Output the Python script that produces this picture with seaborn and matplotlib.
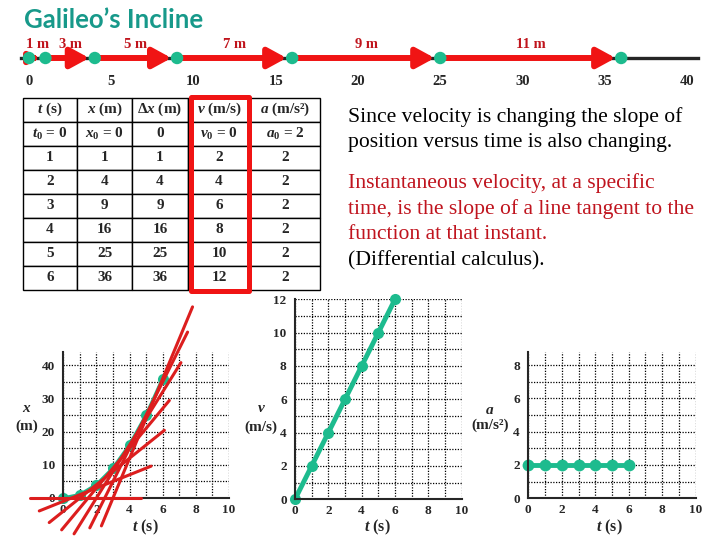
import numpy as np
import matplotlib
matplotlib.use('Agg')
import matplotlib.pyplot as plt
import matplotlib.patches as patches
from matplotlib.ticker import MultipleLocator, FuncFormatter
import seaborn as sns

# --- data ---
times = [0, 1, 2, 3, 4, 5, 6]
positions = [0, 1, 4, 9, 16, 25, 36]
displacements = [0, 1, 4, 9, 16, 25, 36]
velocities = [0, 2, 4, 6, 8, 10, 12]
accelerations = [2, 2, 2, 2, 2, 2, 2]
step_labels = ['1 m', '3 m', '5 m', '7 m', '9 m', '11 m']

table_header = ['$t$ (s)', '$x$ (m)', r'$\Delta x$ (m)', '$v$ (m/s)', '$a$ (m/s²)']
first_row = ['$t_0$ = 0', '$x_0$ = 0', '0', '$v_0$ = 0', '$a_0$ = 2']

# tangent lines on the x-t graph (where each red line starts / stops, in s)
tangent_start = [-2.0, -1.45, -0.85, -0.1, 0.65, 1.6, 2.3]
tangent_end = [4.7, 5.3, 6.1, 6.4, 7.1, 7.5, 7.8]

text_lines = [
    ('Since velocity is changing the slope of', 'black'),
    ('position versus time is also changing.', 'black'),
    ('Instantaneous velocity, at a specific', 'red'),
    ('time, is the slope of a line tangent to the', 'red'),
    ('function at that instant.', 'red'),
    ('(Differential calculus).', 'black'),
]

teal = '#1dbb8e'
title_teal = '#17998a'
arrow_red = '#f01414'
label_red = '#c0141c'
line_red = '#dc1e1e'
text_red = '#c0141e'

sns.set_style('white')
plt.rcParams['font.family'] = ['Liberation Serif', 'DejaVu Serif']
plt.rcParams['font.weight'] = 'bold'
plt.rcParams['mathtext.fontset'] = 'custom'
plt.rcParams['mathtext.rm'] = 'Liberation Serif:bold'
plt.rcParams['mathtext.it'] = 'Liberation Serif:italic:bold'
plt.rcParams['mathtext.bf'] = 'Liberation Serif:bold'

W, H = 720, 540
fig = plt.figure(figsize=(7.2, 5.4), dpi=100)


def px_axes(x0, y0, x1, y1):
    return fig.add_axes([x0 / W, 1 - y1 / H, (x1 - x0) / W, (y1 - y0) / H])


def ftext(x, y, s, **kw):
    return fig.text(x / W, 1 - y / H, s, **kw)


ftext(24, 20, 'Galileo’s Incline', family='Lato', weight='bold', fontsize=18.5,
      color=title_teal, ha='left', va='center')

# number line
ax_nl = px_axes(21, 28, 698, 88)
ax_nl.set_xlim(-0.486, 40.67)
ax_nl.set_ylim(-1, 1)
ax_nl.patch.set_alpha(0)
for s in ['top', 'right', 'left']:
    ax_nl.spines[s].set_visible(False)
ax_nl.spines['bottom'].set_position(('data', 0))
ax_nl.spines['bottom'].set_linewidth(2.4)
ax_nl.xaxis.set_major_locator(MultipleLocator(1))
ax_nl.xaxis.set_major_formatter(
    FuncFormatter(lambda v, p: f'{int(round(v))}' if round(v) % 5 == 0 else ''))
ax_nl.tick_params(axis='x', direction='out', length=8.5, width=1.6, pad=4, labelsize=10.5)
ax_nl.set_yticks([])

for i, lab in enumerate(step_labels):
    a, b = positions[i], positions[i + 1]
    # short first step gets a smaller head so it stays between the dots
    head = 10 if (b - a) < 2 else 20
    ax_nl.annotate('', xy=(b, 0), xytext=(a, 0), annotation_clip=False,
                   arrowprops=dict(arrowstyle='-|>,head_length=0.55,head_width=0.3',
                                   color=arrow_red, lw=4.3, shrinkA=0, shrinkB=4,
                                   mutation_scale=head))
    ax_nl.text((a + b) / 2, 0.45, lab, color=label_red, ha='center', va='center',
               fontsize=10.5)
sns.scatterplot(x=positions, y=[0] * len(positions), ax=ax_nl, s=80, color=teal,
                edgecolor='none', zorder=5, clip_on=False, legend=False)

# table
ax_tab = px_axes(22.7, 97.7, 320, 290)
ax_tab.axis('off')
cell_text = [first_row] + [[str(t), str(x), str(d), str(v), str(a)]
                           for t, x, d, v, a in zip(times[1:], positions[1:],
                                                    displacements[1:], velocities[1:],
                                                    accelerations[1:])]
col_w = [54.3, 55, 56, 62, 70]
tab = ax_tab.table(cellText=cell_text, colLabels=table_header,
                   colWidths=[w / sum(col_w) for w in col_w], bbox=[0, 0, 1, 1],
                   cellLoc='center')
tab.auto_set_font_size(False)
for (r, c), cell in tab.get_celld().items():
    cell.set_linewidth(1.0)
    cell.set_edgecolor('black')
    cell.get_text().set_fontsize(11)
    cell.get_text().set_fontweight('bold')

fig.add_artist(patches.Rectangle((190.8 / W, 1 - 291 / H), 58.4 / W, 194 / H,
                                 transform=fig.transFigure, fill=False,
                                 ec=arrow_red, lw=3.6, joinstyle='round'))

# explanation text
for (line, col), y in zip(text_lines, [117, 143, 183, 209, 235, 261]):
    ftext(348, y, line, fontsize=15.6, weight='normal', ha='left', va='center',
          color=text_red if col == 'red' else 'black')


def motion_axes(box, ylim, y_major, y_minor):
    ax = px_axes(*box)
    ax.set_xlim(0, 10)
    ax.set_ylim(*ylim)
    ax.patch.set_alpha(0)
    ax.xaxis.set_major_locator(MultipleLocator(2))
    ax.xaxis.set_minor_locator(MultipleLocator(1))
    ax.yaxis.set_major_locator(MultipleLocator(y_major))
    ax.yaxis.set_minor_locator(MultipleLocator(y_minor))
    ax.grid(True, which='both', color='black', linestyle=(0, (1, 1.2)), linewidth=0.9)
    for s in ['top', 'right']:
        ax.spines[s].set_visible(False)
    for s in ['left', 'bottom']:
        ax.spines[s].set_linewidth(1.5)
    ax.tick_params(which='minor', length=0)
    ax.tick_params(axis='x', which='major', length=0, pad=4, labelsize=9.5)
    ax.tick_params(axis='y', which='major', length=4, width=0.8, pad=2, labelsize=9.5)
    return ax


# x vs t
ax_x = motion_axes((63.3, 352, 229, 498), (0, 44), 10, 5)
sns.lineplot(x=times, y=positions, ax=ax_x, color=teal, lw=2.5, marker='o',
             markersize=8, markeredgewidth=0, clip_on=False)
for i in range(len(times)):
    tt = np.array([tangent_start[i], tangent_end[i]])
    ax_x.plot(tt, positions[i] + velocities[i] * (tt - times[i]), color=line_red,
              lw=2.2, clip_on=False, zorder=4)

# v vs t
ax_v = motion_axes((295, 299.3, 461.7, 499.3), (0, 12), 2, 1)
sns.lineplot(x=times, y=velocities, ax=ax_v, color=teal, lw=3.5, marker='o',
             markersize=8, markeredgewidth=0, clip_on=False)

# a vs t
ax_a = motion_axes((528.3, 351.7, 695.7, 498.3), (0, 8.8), 2, 1)
sns.lineplot(x=times, y=accelerations, ax=ax_a, color=teal, lw=3.5, marker='o',
             markersize=8.5, markeredgewidth=0, clip_on=False)

for ax in [ax_x, ax_v, ax_a]:
    ax.set_xlabel('')
    ax.set_ylabel('')

# axis titles
for x, ysym, yunit, sym, unit in [(27, 408, 426, '$x$', '(m)'),
                                  (261, 408, 427, '$v$', '(m/s)'),
                                  (490, 410, 425, '$a$', '(m/s²)')]:
    ftext(x, ysym, sym, fontsize=11, ha='center', va='center')
    ftext(x, yunit, unit, fontsize=11, ha='center', va='center')
for x in [145, 377, 609]:
    ftext(x, 527, '$t$ (s)', fontsize=11.5, ha='center', va='center')

fig.savefig('out.png', dpi=100)
